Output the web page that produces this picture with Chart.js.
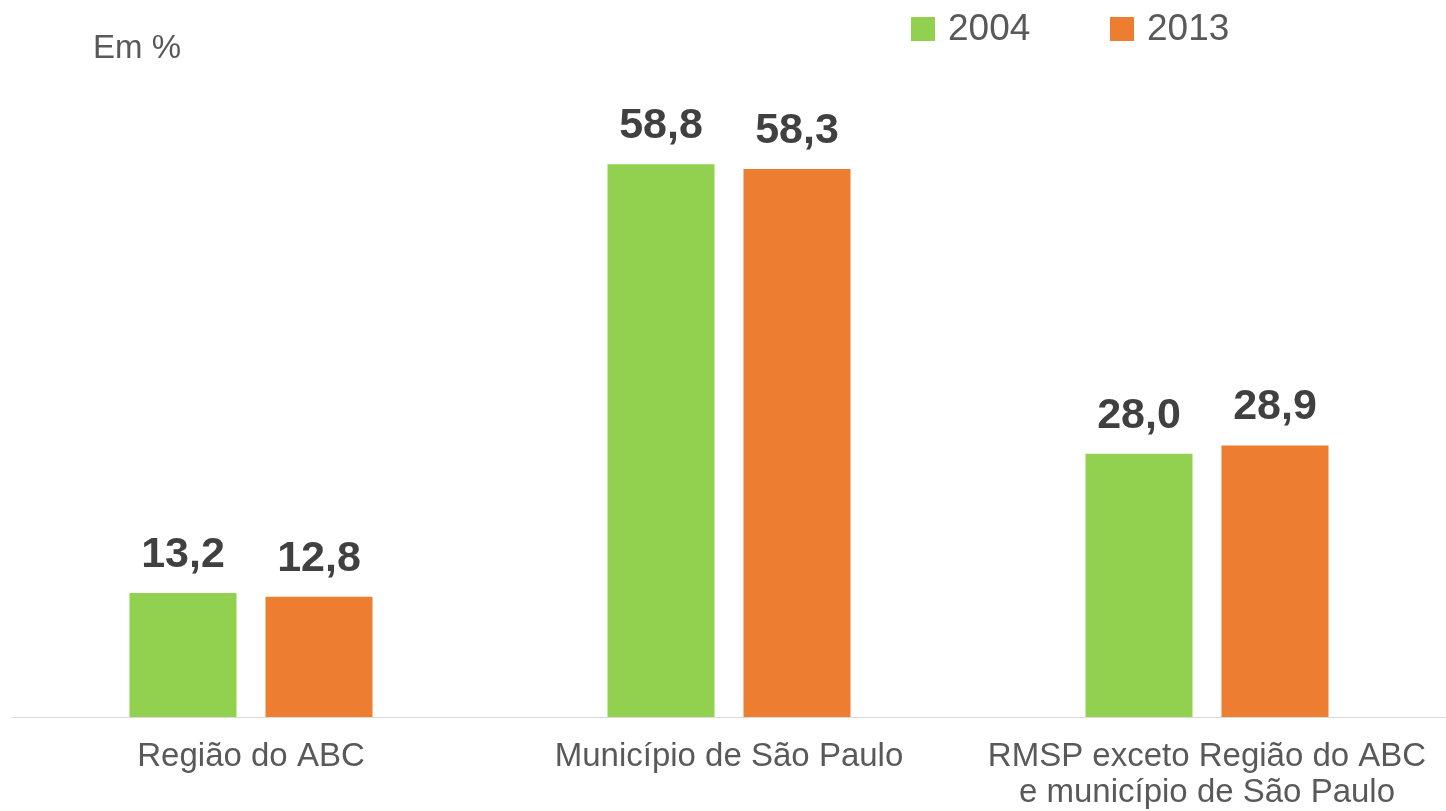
<!DOCTYPE html>
<html>
<head>
<meta charset="utf-8">
<script src="https://cdn.jsdelivr.net/npm/chart.js@4/dist/chart.umd.min.js"></script>
<style>
  html, body { margin: 0; padding: 0; background: #fff; }
  #wrap { position: relative; width: 1446px; height: 811px; }
  #unit {
    position: absolute; left: 93px; top: 31px;
    font: 33px "Liberation Sans", Arial, sans-serif; line-height: 32px;
    color: #595959;
  }
</style>
</head>
<body>
<div id="wrap">
  <canvas id="chart" width="1446" height="811"></canvas>
  <div id="unit">Em %</div>
</div>
<script>
// Dados
const categorias = [
  "Região do ABC",
  "Município de São Paulo",
  ["RMSP exceto Região do ABC", "e município de São Paulo"],
];
const anos = ["2004", "2013"];
const valores2004 = [13.2, 58.8, 28.0];
const valores2013 = [12.8, 58.3, 28.9];
const cores = ["#92D050", "#ED7D31"];

const fonte = '"Liberation Sans", Arial, sans-serif';

// Rótulos de valor acima das barras
const rotulosPlugin = {
  id: "rotulos",
  afterDatasetsDraw(chart) {
    const ctx = chart.ctx;
    ctx.save();
    ctx.font = "bold 43px " + fonte;
    ctx.fillStyle = "#404040";
    ctx.textAlign = "center";
    ctx.textBaseline = "alphabetic";
    chart.data.datasets.forEach((ds, i) => {
      chart.getDatasetMeta(i).data.forEach((bar, j) => {
        const txt = ds.data[j].toFixed(1).replace(".", ",");
        ctx.fillText(txt, bar.x, bar.y - 26);
      });
    });
    ctx.restore();
  },
};

// Legenda no canto superior direito
const legendaPlugin = {
  id: "legenda",
  afterDraw(chart) {
    const ctx = chart.ctx;
    const posX = [911, 1110];
    ctx.save();
    ctx.font = "37px " + fonte;
    ctx.textBaseline = "middle";
    ctx.textAlign = "left";
    chart.data.datasets.forEach((ds, i) => {
      ctx.fillStyle = ds.backgroundColor;
      ctx.fillRect(posX[i], 17, 24, 24);
      ctx.fillStyle = "#595959";
      ctx.fillText(ds.label, posX[i] + 37, 30);
    });
    ctx.restore();
  },
};

new Chart(document.getElementById("chart"), {
  type: "bar",
  data: {
    labels: categorias,
    datasets: [
      { label: anos[0], data: valores2004, backgroundColor: cores[0] },
      { label: anos[1], data: valores2013, backgroundColor: cores[1] },
    ],
  },
  options: {
    responsive: false,
    animation: false,
    categoryPercentage: 0.569,
    barPercentage: 0.787,
    layout: { padding: { top: 59, left: 12, right: 0, bottom: -22 } },
    plugins: {
      legend: { display: false },
      tooltip: { enabled: false },
    },
    scales: {
      x: {
        grid: { display: false, drawTicks: false },
        border: { display: true, color: "#d9d9d9", width: 1 },
        ticks: {
          color: "#595959",
          font: { family: fonte, size: 33, lineHeight: 1.09 },
          padding: 22,
          maxRotation: 0,
          autoSkip: false,
        },
        afterFit(scale) {
          scale.paddingLeft = 0;
          scale.paddingRight = 0;
        },
      },
      y: {
        display: false,
        min: 0,
        max: 70,
      },
    },
  },
  plugins: [rotulosPlugin, legendaPlugin],
});
</script>
</body>
</html>
